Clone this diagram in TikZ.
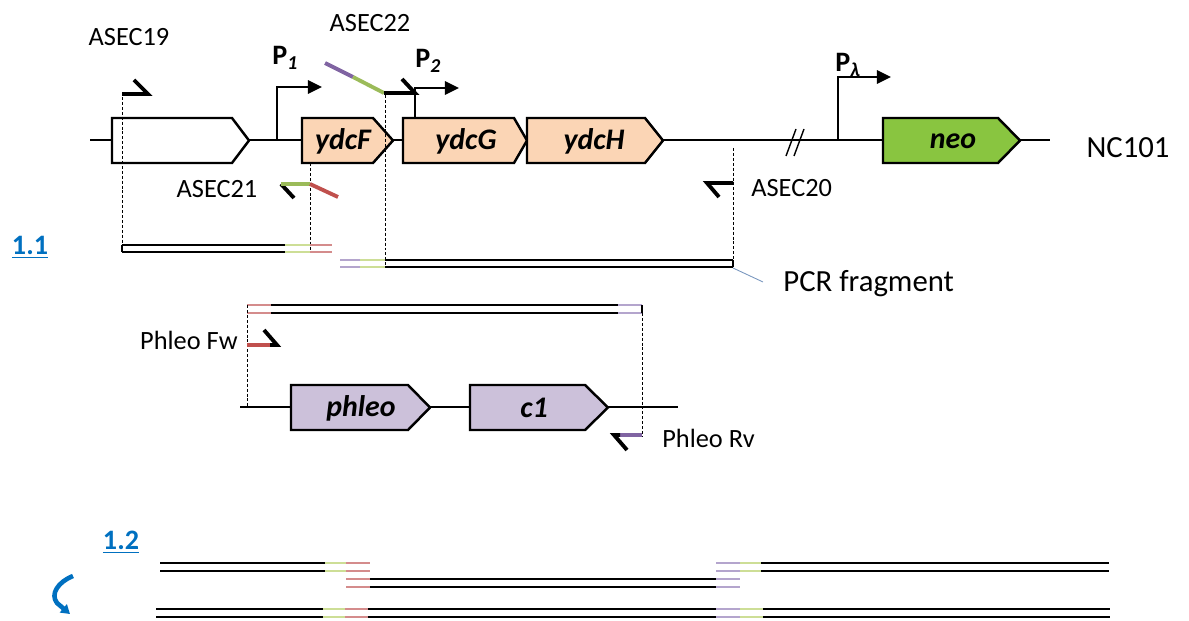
\documentclass[tikz,border=0pt]{standalone}
\usepackage{fontspec}
\setmainfont{Carlito}
\usetikzlibrary{arrows.meta}
\definecolor{peach}{RGB}{251,213,181}
\definecolor{lav}{RGB}{204,193,218}
\definecolor{neogreen}{RGB}{137,197,64}
\definecolor{pgreen}{RGB}{155,187,89}
\definecolor{pred}{RGB}{192,80,77}
\definecolor{ppurple}{RGB}{128,100,162}
\definecolor{lgreen}{RGB}{205,222,150}
\definecolor{lred}{RGB}{212,140,140}
\definecolor{lpurple}{RGB}{180,165,205}
\definecolor{linkblue}{RGB}{0,112,192}
\definecolor{leadercol}{RGB}{120,150,190}
\newcommand{\strands}[5]{\draw[frag,#5] (#3,#1) -- (#4,#1) (#3,#2) -- (#4,#2);}
\begin{document}
\begin{tikzpicture}[x=0.02cm,y=-0.02cm,
  backbone/.style={line width=1.4pt},
  genebox/.style={draw, line width=1.4pt, line join=miter},
  genelabel/.style={font=\fontsize{17}{20}\selectfont\bfseries\itshape, inner sep=0pt},
  prom/.style={line width=1.4pt, -{Triangle[length=8pt,width=7.5pt]}},
  primer/.style={line width=2.2pt},
  guide/.style={line width=0.5pt, dash pattern=on 1.7pt off 1.1pt},
  frag/.style={line width=0.8pt},
  lab/.style={font=\fontsize{15}{17}\selectfont, inner sep=0pt},
  biglab/.style={font=\fontsize{17.5}{20}\selectfont, inner sep=0pt},
  plab/.style={font=\fontsize{16}{18}\selectfont\bfseries, inner sep=0pt},
  seclab/.style={font=\fontsize{16}{18}\selectfont\bfseries, text=linkblue, inner sep=0pt}
]
\useasboundingbox (0,0) rectangle (1189,621);

% ---------- top backbone ----------
\coordinate (bbL) at (90,140);
\coordinate (bbR) at (1050,140);
\draw[backbone] (bbL) -- (bbR);
\draw[line width=0.8pt] (786,156) -- (796,129) (794,156) -- (804,129);

% promoters
\coordinate (p1b) at (277,140); \coordinate (p1e) at (322,87);
\coordinate (p2b) at (415,118); \coordinate (p2e) at (459,88);
\coordinate (plb) at (838,140); \coordinate (ple) at (891,77);
\draw[prom] (p1b) |- (p1e);
\draw[prom] (p2b) |- (p2e);
\draw[prom] (plb) |- (ple);
\node[plab, anchor=west] (P1) at (272,58) {P\textsubscript{\itshape 1}};
\node[plab, anchor=west] (P2) at (415,61) {P\textsubscript{\itshape 2}};
\node[plab, anchor=west] (PL) at (835,65) {P\textsubscript{\itshape λ}};

% genes, top row
\draw[genebox, fill=white] (112,118) -- (232,118) -- (249,140.5) -- (232,163) -- (112,163) -- cycle;
\draw[genebox, fill=peach] (302,118) -- (373,118) -- (393,140.5) -- (373,163) -- (302,163) -- cycle;
\draw[genebox, fill=peach] (403,118) -- (514,118) -- (527,140.5) -- (514,163) -- (403,163) -- cycle;
\draw[genebox, fill=peach] (527,118) -- (645,118) -- (663,140.5) -- (645,163) -- (527,163) -- cycle;
\draw[genebox, fill=neogreen] (883,118) -- (998,118) -- (1020,140.5) -- (998,163) -- (883,163) -- cycle;
\node[genelabel] (ydcF) at (343,141) {ydcF};
\node[genelabel] (ydcG) at (466,141) {ydcG};
\node[genelabel] (ydcH) at (594,141) {ydcH};
\node[genelabel] (neo) at (953,141) {neo};
\node[biglab] (NC) at (1128,148) {NC101};

% guide lines
\draw[guide] (122,97) -- (122,252);
\draw[guide] (310,163) -- (310,253);
\draw[guide] (385,95) -- (385,267);
\draw[guide] (733,148) -- (733,267);

% primers
\draw[primer, line join=miter] (122,94) -- (148,94) -- (134,80);
\node[lab] (A19) at (129,37) {ASEC19};
\draw[primer, ppurple] (325,63) -- (353,77);
\draw[primer, pgreen] (353,77) -- (384,93);
\draw[primer, line join=miter] (384,93) -- (415,93) -- (402,79);
\node[lab] (A22) at (370,23) {ASEC22};
\draw[primer] (294,198) -- (281,184);
\draw[primer, pgreen] (281,184) -- (310,184);
\draw[primer, pred] (310,184) -- (338,197);
\node[lab] (A21) at (217,189) {ASEC21};
\draw[primer, line join=miter] (733,183) -- (707,183) -- (719,197);
\node[lab, anchor=west] (A20) at (751,188) {ASEC20};

% PCR fragments 1.1
\strands{245}{252}{122}{285}{black}
\strands{245}{252}{285}{310}{lgreen}
\strands{245}{252}{310}{332}{lred}
\draw[frag] (122,245) -- (122,252);
\strands{260}{267}{340}{360}{lpurple}
\strands{260}{267}{360}{385}{lgreen}
\strands{260}{267}{385}{733}{black}
\draw[frag] (733,260) -- (733,267);
\coordinate (leadS) at (733,268);
\node[biglab, anchor=west] (PCR) at (783,284) {PCR fragment};
\draw[leadercol, line width=0.5pt] (leadS) -- (763,282);
\node[seclab] (s11) at (30,247) {\underline{1.1}};

% ---------- phleo cassette ----------
\strands{305}{313}{247}{271}{lred}
\strands{305}{313}{271}{618}{black}
\strands{305}{313}{618}{642}{lpurple}
\draw[frag] (642,305) -- (642,313);
\draw[guide] (247,305) -- (247,407);
\draw[guide] (642,313) -- (642,437);
\draw[backbone] (240,407) -- (678,407);
\draw[genebox, fill=lav] (291,385) -- (408,385) -- (430,407.5) -- (408,430) -- (291,430) -- cycle;
\draw[genebox, fill=lav] (470,385) -- (585,385) -- (608,407.5) -- (585,430) -- (470,430) -- cycle;
\node[genelabel] (phleo) at (361,408) {phleo};
\node[genelabel] (c1) at (534,408) {c1};
\draw[primer, pred] (247,345) -- (270,345);
\draw[primer, line join=miter] (270,345) -- (277,345) -- (264,330);
\node[lab, anchor=east] (PFw) at (238,340) {Phleo Fw};
\draw[primer, ppurple] (642,435) -- (620,435);
\draw[primer, line join=miter] (620,435) -- (614,435) -- (627,450);
\node[lab, anchor=west] (PRv) at (662,438) {Phleo Rv};

% ---------- 1.2 ----------
\node[seclab] (s12) at (121,542) {\underline{1.2}};
\strands{563}{571}{160}{325}{black}
\strands{563}{571}{325}{346}{lgreen}
\strands{563}{571}{346}{370}{lred}
\strands{563}{571}{716}{740}{lpurple}
\strands{563}{571}{740}{761}{lgreen}
\strands{563}{571}{761}{1109}{black}
\strands{579}{587}{346}{370}{lred}
\strands{579}{587}{370}{716}{black}
\strands{579}{587}{716}{740}{lpurple}
\strands{609}{617}{156}{323}{black}
\strands{609}{617}{323}{345}{lgreen}
\strands{609}{617}{345}{368}{lred}
\strands{609}{617}{368}{716}{black}
\strands{609}{617}{716}{740}{lpurple}
\strands{609}{617}{740}{763}{lgreen}
\strands{609}{617}{763}{1110}{black}

% blue curved arrow
\coordinate (cvS) at (73,576);
\coordinate (cvE) at (70,614);
\draw[linkblue, line width=2.6pt, -{Triangle[length=5pt,width=6pt]}] (cvS) .. controls (58,582) and (50,594) .. (57,603) -- (cvE);
\end{tikzpicture}
\end{document}
